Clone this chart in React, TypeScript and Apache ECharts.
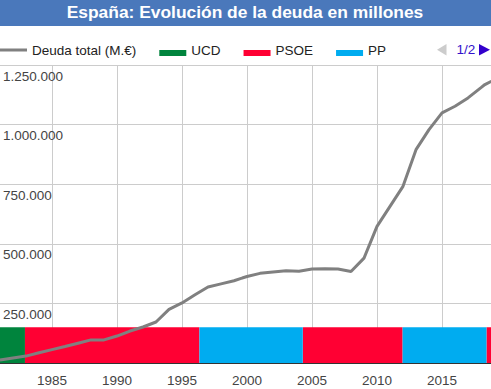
import React, { useEffect, useRef } from 'react';
import * as echarts from 'echarts';

const TITLE = 'España: Evolución de la deuda en millones';
const DEBT_NAME = 'Deuda total (M.€)';

// Debt (millions of euros) by year
const years = [
  1981, 1982, 1983, 1984, 1985, 1986, 1987, 1988, 1989, 1990,
  1991, 1992, 1993, 1994, 1995, 1996, 1997, 1998, 1999, 2000,
  2001, 2002, 2003, 2004, 2005, 2006, 2007, 2008, 2009, 2010,
  2011, 2012, 2013, 2014, 2015, 2016, 2017, 2018, 2018.3, 2018.8,
];
const debt = [
  12600, 21000, 29000, 43000, 56000, 69000, 83000, 97000, 97000, 113000,
  134000, 151000, 172000, 225000, 252000, 286000, 319000, 332000, 345000, 363000,
  376000, 382000, 387000, 385000, 394000, 395000, 394000, 384000, 440000, 573000,
  657000, 741000, 895000, 979000, 1049000, 1077000, 1112000, 1155000, 1168000, 1182000,
];

// Governing party periods
const partyNames = ['UCD', 'PSOE', 'PP'];
const govStart = [1977.5, 1982.92, 1996.34, 2004.29, 2011.97, 2018.42];
const govEnd = [1982.92, 1996.34, 2004.29, 2011.97, 2018.42, 2020];
const govParty = ['UCD', 'PSOE', 'PP', 'PSOE', 'PP', 'PSOE'];
const bandValue = 150000;

// Axes
const yTicks = [0, 250000, 500000, 750000, 1000000, 1250000];
const xMin = 1980;
const xMax = 2020;

const partyColors: Record<string, string> = {
  UCD: '#00843d',
  PSOE: '#ff0033',
  PP: '#00acf0',
};

const fmtThousands = (v: number) =>
  String(Math.round(v)).replace(/\B(?=(\d{3})+(?!\d))/g, '.');

const FONT = '"Liberation Sans", Arial, sans-serif';
const OFF = 13; // chart canvas starts 13px left of the page edge
const W = 520;

export default function App() {
  const ref = useRef<HTMLDivElement>(null);

  useEffect(() => {
    if (!ref.current) return;
    const chart = echarts.init(ref.current, undefined, { renderer: 'svg' });

    const partySeries = partyNames.map((p) => ({
      name: p,
      type: 'custom',
      clip: true,
      z: 2,
      itemStyle: { color: partyColors[p] },
      encode: { x: [0, 1], y: 2 },
      data: govParty
        .map((gp, i) => (gp === p ? [govStart[i], govEnd[i], bandValue] : null))
        .filter((d) => d !== null),
      renderItem: (params: any, api: any) => {
        const p0 = api.coord([api.value(0), api.value(2)]);
        const p1 = api.coord([api.value(1), 0]);
        return {
          type: 'rect',
          shape: { x: p0[0], y: p0[1], width: p1[0] - p0[0], height: p1[1] - p0[1] },
          style: { fill: api.visual('color') },
        };
      },
    }));

    const rectIcon = 'path://M0,0H0.01V0.01H0Z M0,6H27V12H0Z';
    const lineIcon = 'path://M0,0H0.01V0.01H0Z M0,4.5H27V7.5H0Z M0,11.99H0.01V12H0Z';

    chart.setOption({
      animation: false,
      backgroundColor: '#ffffff',
      textStyle: { fontFamily: FONT },
      graphic: [
        {
          type: 'rect',
          shape: { x: 0, y: 0, width: W, height: 26 },
          style: { fill: '#4a78bb' },
          z: 0,
        },
        {
          type: 'text',
          x: 245 + OFF,
          y: 11.5,
          style: {
            text: TITLE,
            fill: '#ffffff',
            font: `bold 17.4px ${FONT}`,
            align: 'center',
            verticalAlign: 'middle',
          },
          z: 1,
        },
        {
          type: 'polygon',
          shape: { points: [[446.5 + OFF, 44], [446.5 + OFF, 55.5], [437 + OFF, 49.7]] },
          style: { fill: '#cccccc' },
        },
        {
          type: 'text',
          x: 456.5 + OFF,
          y: 49.5,
          style: {
            text: '1/2',
            fill: '#3311cc',
            font: `13.5px ${FONT}`,
            align: 'left',
            verticalAlign: 'middle',
          },
        },
        {
          type: 'polygon',
          shape: { points: [[479 + OFF, 44], [479 + OFF, 55.5], [490 + OFF, 49.7]] },
          style: { fill: '#3300cc' },
        },
      ],
      legend: {
        left: OFF,
        top: 43,
        padding: 0,
        itemGap: 23,
        itemWidth: 27,
        itemHeight: 12,
        selectedMode: false,
        textStyle: { fontSize: 13.5, color: '#222222', fontFamily: FONT },
        data: [
          { name: DEBT_NAME, icon: lineIcon },
          ...partyNames.map((n) => ({ name: n, icon: rectIcon })),
        ],
      },
      grid: { left: 0, right: 0, top: 65, bottom: 26, containLabel: false },
      xAxis: {
        type: 'value',
        min: xMin,
        max: xMax,
        interval: 5,
        axisLine: { show: true, lineStyle: { color: '#333333', width: 1 } },
        axisTick: { show: false },
        axisLabel: {
          showMinLabel: false,
          showMaxLabel: false,
          color: '#444444',
          fontSize: 13.5,
          margin: 10,
          formatter: (v: number) => String(v),
        },
        splitLine: { show: true, lineStyle: { color: '#cccccc', width: 1 } },
      },
      yAxis: {
        type: 'value',
        min: yTicks[0],
        max: yTicks[yTicks.length - 1],
        interval: yTicks[1] - yTicks[0],
        axisLine: { show: false },
        axisTick: { show: false },
        axisLabel: {
          inside: true,
          showMinLabel: false,
          margin: 16,
          align: 'left',
          verticalAlign: 'top',
          lineHeight: 14,
          padding: [4, 0, 0, 0],
          color: '#444444',
          fontSize: 13.5,
          formatter: (v: number) => fmtThousands(v),
        },
        splitLine: { show: true, lineStyle: { color: '#cccccc', width: 1 } },
      },
      series: [
        ...partySeries,
        {
          name: DEBT_NAME,
          type: 'line',
          z: 5,
          symbol: 'none',
          showSymbol: false,
          color: '#808080',
          lineStyle: { color: '#808080', width: 3 },
          data: years.map((y, i) => [y, debt[i]]),
        },
      ],
    });

    return () => chart.dispose();
  }, []);

  return (
    <div
      ref={ref}
      style={{ position: 'fixed', left: -OFF, top: 0, width: W, height: 389, background: '#fff' }}
    />
  );
}
